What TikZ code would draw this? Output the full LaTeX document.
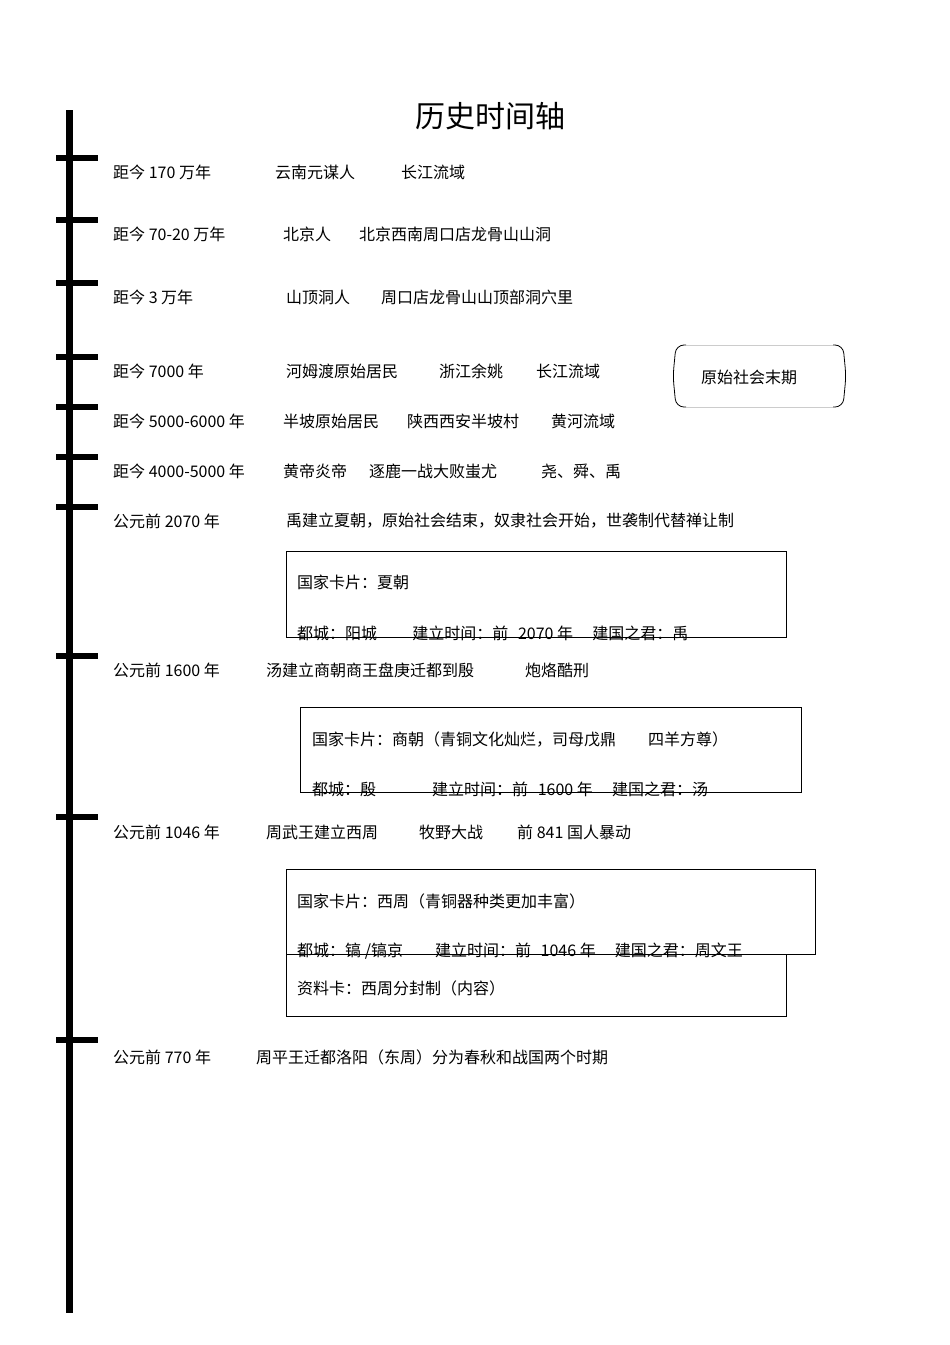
\documentclass[tikz,border=0pt]{standalone}
\usepackage{fontspec}
\setmainfont{Noto Sans CJK SC}
\begin{document}
\begin{tikzpicture}[x=1pt,y=-1pt,
 t/.style={anchor=west,inner sep=0,font=\fontsize{16}{18}\selectfont},
 card/.style={draw,line width=0.8pt},
 tick/.style={line width=6pt}]
\useasboundingbox (0,0) rectangle (950,1345);
\node[inner sep=0,font=\fontsize{30}{34}\selectfont] (title) at (490,116) {历史时间轴};
\coordinate (top) at (69,110); \coordinate (bot) at (69,1313);
\draw[line width=7pt] (top) -- (bot);
\foreach \y in {158,220,283,357,407,457,507,656,817,1040}{
 \draw[tick] (56,\y) -- (98,\y);}
% rows
\node[t] (a1) at (113,172) {距今 170 万年};
\node[t] (a2) at (275,172) {云南元谋人};
\node[t] (a3) at (401,172) {长江流域};
\node[t] (b1) at (113,234) {距今 70-20 万年};
\node[t] (b2) at (283,234) {北京人};
\node[t] (b3) at (359,234) {北京西南周口店龙骨山山洞};
\node[t] (c1) at (113,297) {距今 3 万年};
\node[t] (c2) at (286,297) {山顶洞人};
\node[t] (c3) at (381,297) {周口店龙骨山山顶部洞穴里};
\node[t] (d1) at (113,371) {距今 7000 年};
\node[t] (d2) at (286,371) {河姆渡原始居民};
\node[t] (d3) at (439,371) {浙江余姚};
\node[t] (d4) at (536,371) {长江流域};
\node[t] (e1) at (113,421) {距今 5000-6000 年};
\node[t] (e2) at (283,421) {半坡原始居民};
\node[t] (e3) at (407,421) {陕西西安半坡村};
\node[t] (e4) at (551,421) {黄河流域};
\node[t] (f1) at (113,471) {距今 4000-5000 年};
\node[t] (f2) at (283,471) {黄帝炎帝};
\node[t] (f3) at (369,471) {逐鹿一战大败蚩尤};
\node[t] (f4) at (541,471) {尧、舜、禹};
\node[t] (g1) at (113,521) {公元前 2070 年};
\node[t] (g2) at (286,521) {禹建立夏朝，原始社会结束，奴隶社会开始，世袭制代替禅让制};
\node[t] (h1) at (113,670) {公元前 1600 年};
\node[t] (h2) at (266,670) {汤建立商朝商王盘庚迁都到殷};
\node[t] (h3) at (525,670) {炮烙酷刑};
\node[t] (i1) at (113,832) {公元前 1046 年};
\node[t] (i2) at (266,832) {周武王建立西周};
\node[t] (i3) at (419,832) {牧野大战};
\node[t] (i4) at (517,832) {前 841 国人暴动};
\node[t] (j1) at (113,1057) {公元前 770 年};
\node[t] (j2) at (256,1057) {周平王迁都洛阳（东周）分为春秋和战国两个时期};
% bracket box
\draw[line width=0.8pt,rounded corners=8pt] (686,345) -- (676,345) -- (673,376) -- (676,407) -- (686,407);
\draw[line width=0.8pt,rounded corners=8pt] (833,345) -- (843,345) -- (846,376) -- (843,407) -- (833,407);
\draw[gray!40,line width=0.5pt] (686,345) -- (833,345) (686,407) -- (833,407);
\node[t] (yuan) at (701,377) {原始社会末期};
% cards
\draw[card] (286,551) rectangle (786,637);
\node[t] (k1) at (297,582) {国家卡片：夏朝};
\node[t] (k2) at (297,633) {都城：阳城\hspace{2.2em}建立时间：前\hspace{0.6em}2070 年\hspace{1.2em}建国之君：禹};
\draw[card] (300,707) rectangle (801,792);
\node[t] (l1) at (312,739) {国家卡片：商朝（青铜文化灿烂，司母戊鼎\hspace{2em}四羊方尊）};
\node[t] (l2) at (312,789) {都城：殷\hspace{3.5em}建立时间：前\hspace{0.6em}1600 年\hspace{1.2em}建国之君：汤};
\draw[card] (286,869) rectangle (815,954);
\node[t] (m1) at (297,901) {国家卡片：西周（青铜器种类更加丰富）};
\node[t] (m2) at (297,951) {都城：镐 /镐京\hspace{2em}建立时间：前\hspace{0.6em}1046 年\hspace{1.2em}建国之君：周文王};
\draw[card] (286,954) -- (286,1016) -- (786,1016) -- (786,954);
\node[t] (n1) at (297,988) {资料卡：西周分封制（内容）};
\end{tikzpicture}
\end{document}
